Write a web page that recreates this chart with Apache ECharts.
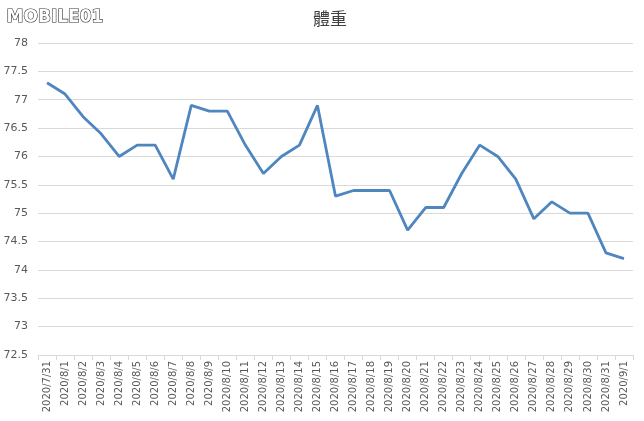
<!DOCTYPE html>
<html>
<head>
<meta charset="utf-8">
<script src="https://cdn.jsdelivr.net/npm/echarts@6/dist/echarts.min.js"></script>
<style>html,body{margin:0;padding:0;background:#fff}#c{width:644px;height:421px}</style>
</head>
<body>
<div id="c"></div>
<script>
const categories = ['2020/7/31','2020/8/1','2020/8/2','2020/8/3','2020/8/4','2020/8/5','2020/8/6','2020/8/7','2020/8/8','2020/8/9','2020/8/10','2020/8/11','2020/8/12','2020/8/13','2020/8/14','2020/8/15','2020/8/16','2020/8/17','2020/8/18','2020/8/19','2020/8/20','2020/8/21','2020/8/22','2020/8/23','2020/8/24','2020/8/25','2020/8/26','2020/8/27','2020/8/28','2020/8/29','2020/8/30','2020/8/31','2020/9/1'];
const weights = [77.3,77.1,76.7,76.4,76.0,76.2,76.2,75.6,76.9,76.8,76.8,76.2,75.7,76.0,76.2,76.9,75.3,75.4,75.4,75.4,74.7,75.1,75.1,75.7,76.2,76.0,75.6,74.9,75.2,75.0,75.0,74.3,74.2];
const titleText = '體重';
const logoText = 'MOBILE01';

const chart = echarts.init(document.getElementById('c'), null, {renderer:'canvas'});
chart.setOption({
  backgroundColor:'#fff',
  animation:false,
  title:{text:titleText,left:325,top:5,textAlign:'center',textStyle:{fontSize:17,fontWeight:'normal',color:'#404040',fontFamily:'Noto Sans CJK TC'}},
  graphic:[{type:'text',left:6,top:8,style:{text:logoText,fontSize:17,fontWeight:'bold',fill:'#fff',stroke:'#333',lineWidth:1.2,fontFamily:'DejaVu Sans',letterSpacing:1}}],
  grid:{left:38,right:11,top:43,bottom:66},
  xAxis:{type:'category',data:categories,boundaryGap:true,
    axisLine:{lineStyle:{color:'#d9d9d9'}},
    axisTick:{show:true,interval:0,length:5,lineStyle:{color:'#d9d9d9'}},
    axisLabel:{interval:0,rotate:90,fontSize:10,color:'#595959',fontFamily:'DejaVu Sans',margin:6}},
  yAxis:{type:'value',min:72.5,max:78,interval:0.5,
    axisLine:{show:false},axisTick:{show:false},
    splitLine:{lineStyle:{color:'#d9d9d9'}},
    axisLabel:{fontSize:11,color:'#595959',fontFamily:'DejaVu Sans',margin:10}},
  series:[{type:'line',data:weights,symbol:'none',lineStyle:{color:'#4f86c0',width:2.8}}]
});
</script>
</body>
</html>
